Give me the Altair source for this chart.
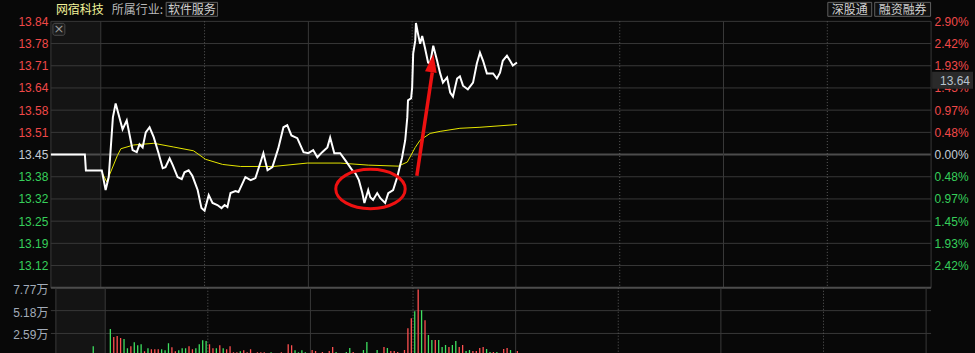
import json
import altair as alt
import pandas as pd

# ---------------- values ----------------
PREV_CLOSE = 13.45
STEP = 0.0651
X_START, X_END = -14.42, 240

price_tick_labels = ["13.12", "13.19", "13.25", "13.32", "13.38", "13.45",
                     "13.51", "13.58", "13.64", "13.71", "13.78", "13.84"]
pct_tick_labels = ["2.42%", "1.93%", "1.45%", "0.97%", "0.48%", "0.00%",
                   "0.48%", "0.97%", "1.45%", "1.93%", "2.42%", "2.90%"]
vol_tick_values = [2.59, 5.18, 7.77]
vol_tick_labels = ["2.59万", "5.18万", "7.77万"]

grid_solid_t = [X_START, 0, 60, 120, 180, 240]
grid_dotted_t = [30, 90, 150, 210]

price_t = [-14.42, -4.6, -4.3, 0.3, 1.4, 2.3, 3.5, 4.3, 6.3, 7.5, 9.2, 10.4, 11.2, 12.1, 13.0,
           14.1, 15.3, 16.7, 17.9, 18.7, 19.9, 20.8, 22.2, 23.4, 24.2, 25.4, 26.5, 28.0, 29.1,
           30.0, 31.2, 32.3, 33.7, 34.9, 35.8, 36.6, 37.5, 38.9, 39.8, 41.0, 41.8, 43.3, 44.7,
           46.2, 47.0, 48.2, 49.6, 51.3, 52.8, 53.9, 55.1, 56.8, 58.6, 60.0, 61.4, 62.6, 64.0,
           65.5, 66.3, 67.5, 69.2, 70.7, 72.7, 73.6, 74.6, 75.6, 76.2, 77.3, 77.9, 78.7, 79.9,
           80.8, 82.2, 83.1, 84.5, 85.7, 87.1, 88.0, 88.6, 88.8, 89.7, 90.0, 90.3, 90.9, 91.1,
           91.7, 92.3, 92.9, 93.7, 94.6, 95.2, 96.1, 97.2, 98.1, 98.9, 100.1, 101.0, 101.8,
           103.0, 103.8, 104.7, 106.1, 107.6, 108.7, 109.6, 110.5, 111.6, 112.5, 113.4, 114.5,
           115.4, 116.2, 117.4, 118.3, 119.1, 120.3]
price_v = [13.45, 13.45, 13.403, 13.403, 13.346, 13.384, 13.559, 13.600, 13.524, 13.550, 13.463,
           13.457, 13.480, 13.471, 13.515, 13.530, 13.501, 13.454, 13.410, 13.413, 13.439, 13.419,
           13.384, 13.378, 13.398, 13.404, 13.387, 13.346, 13.293, 13.285, 13.331, 13.308, 13.302,
           13.293, 13.302, 13.296, 13.337, 13.343, 13.340, 13.366, 13.384, 13.375, 13.381, 13.428,
           13.454, 13.404, 13.413, 13.468, 13.530, 13.536, 13.506, 13.498, 13.457, 13.454, 13.463,
           13.442, 13.457, 13.471, 13.500, 13.454, 13.454, 13.433, 13.404, 13.395, 13.375, 13.337,
           13.308, 13.346, 13.325, 13.317, 13.337, 13.322, 13.308, 13.337, 13.346, 13.384, 13.442,
           13.492, 13.559, 13.609, 13.615, 13.646, 13.746, 13.784, 13.836, 13.804, 13.775, 13.798,
           13.763, 13.720, 13.717, 13.769, 13.726, 13.688, 13.661, 13.676, 13.632, 13.620, 13.673,
           13.679, 13.652, 13.641, 13.661, 13.717, 13.749, 13.725, 13.688, 13.688, 13.688, 13.673,
           13.690, 13.725, 13.740, 13.725, 13.711, 13.720]

avg_t = [0.5, 1.7, 4.8, 5.8, 9.5, 15.3, 21.1, 26.8, 30.3, 35.2, 40.4, 49.9, 59.7, 69.2, 77.3,
         86.0, 88.6, 90.9, 92.3, 95.2, 98.1, 103.8, 109.6, 120.3]
avg_v = [13.395, 13.370, 13.447, 13.467, 13.478, 13.483, 13.472, 13.461, 13.436, 13.421, 13.415,
         13.415, 13.425, 13.425, 13.419, 13.416, 13.428, 13.471, 13.492, 13.512, 13.518, 13.527,
         13.530, 13.538]

# volume per minute (万), 9:30 .. 11:30
vol = [3.09, 2.18, 2.30, 2.06, 1.95, 0.92, 1.15, 1.60, 1.26, 1.37,
       0.57, 0.92, 0.80, 0.80, 0.80, 0.80, 0.69, 1.49, 1.03, 0.57,
       0.69, 0.92, 0.92, 1.15, 0.80, 0.92, 1.37, 1.83, 1.72, 1.37,
       0.92, 0.92, 1.26, 0.92, 0.80, 1.15, 0.46, 0.46, 0.57, 0.69,
       0.46, 0.80, 0.15, 0.46, 0.46, 0.46, 0.15, 0.46, 0.15, 0.15,
       0.46, 0.15, 1.37, 1.26, 0.69, 0.46, 0.69, 0.46, 0.15, 0.71,
       0.60, 0.15, 0.49, 0.15, 0.60, 1.05, 0.49, 0.15, 0.15, 0.49,
       0.94, 0.49, 0.15, 0.15, 0.71, 1.61, 0.15, 0.15, 0.71, 0.15,
       1.05, 0.94, 0.60, 0.60, 0.49, 0.15, 0.71, 3.19, 4.32, 5.10,
       7.58, 5.22, 4.09, 2.40, 1.84, 1.84, 1.84, 1.05, 1.28, 1.05,
       1.28, 1.73, 1.05, 1.28, 0.60, 0.71, 0.60, 0.60, 0.94, 1.05,
       0.83, 0.49, 0.49, 0.49, 0.15, 0.83, 0.94, 0.71, 0.15, 0.60]
vol_up = [0, 1, 1, 1, 0, 0, 1, 0, 0, 0,
          1, 0, 1, 1, 1, 0, 0, 0, 1, 1,
          0, 0, 0, 1, 1, 0, 0, 0, 0, 1,
          1, 0, 1, 0, 1, 1, 1, 1, 0, 1,
          1, 1, 1, 1, 1, 1, 0, 0, 0, 1,
          1, 1, 1, 1, 0, 0, 0, 0, 0, 1,
          1, 0, 1, 0, 1, 1, 0, 0, 0, 0,
          0, 1, 0, 0, 0, 0, 0, 0, 0, 0,
          1, 0, 1, 1, 1, 1, 1, 1, 1, 0,
          1, 0, 1, 0, 0, 1, 0, 0, 0, 1,
          0, 0, 1, 1, 0, 0, 1, 1, 1, 1,
          0, 0, 1, 0, 0, 1, 1, 0, 0, 1]
auction_t = [-3.5]
auction_vol = [1.15]

circle_t, circle_p = [77.96], [13.349]
arrow_t, arrow_p, arrow_t2, arrow_p2 = [91.35], [13.388], [95.82], [13.691]
arrow_tip_t, arrow_tip_p = [96.14], [13.745]
TAG_TEXT = "13.64"

# ---------------- styling ----------------
W, H_PRICE, H_VOL = 882, 267, 66
BG = "#080808"
PRE = "#141414"
GRID = "#383838"
DOT = "#5c5c5c"
RED_TXT, GREEN_TXT, NEUTRAL_TXT = "#f04848", "#36cf5a", "#c3ccd6"
BAR_UP, BAR_DOWN = "#ff5050", "#3ee060"
ANN = "#ee1111"
CJK = "Noto Sans CJK SC"
LAT = "Liberation Sans"
EPS = 1e-4

price_ticks = [round(PREV_CLOSE + k * STEP, 4) for k in range(-5, 7)]
xs = alt.Scale(domain=[X_START, X_END], nice=False, zero=False)
ys = alt.Scale(domain=[PREV_CLOSE - 6 * STEP - EPS, PREV_CLOSE + 6 * STEP + EPS], nice=False, zero=False)
vs = alt.Scale(domain=[0.3, 7.77 + EPS], nice=False, zero=False)

color_expr = (f"datum.value > {PREV_CLOSE + 0.01} ? '{RED_TXT}' : "
              f"(datum.value < {PREV_CLOSE - 0.01} ? '{GREEN_TXT}' : '{NEUTRAL_TXT}')")
idx_expr = f"round((datum.value - {price_ticks[0]}) / {STEP})"

left_axis = alt.Axis(values=price_ticks, labelExpr=f"{json.dumps(price_tick_labels)}[{idx_expr}]",
                     labelColor={"expr": color_expr}, labelFont=LAT, labelFontSize=12,
                     labelPadding=3, domain=False, ticks=False, grid=False, labelFlush=False,
                     labelOverlap=False, title=None)
right_axis = alt.Axis(values=price_ticks, orient="right",
                      labelExpr=f"{json.dumps(pct_tick_labels)}[{idx_expr}]",
                      labelColor={"expr": color_expr}, labelFont=LAT, labelFontSize=12,
                      labelPadding=3, labelAlign="left", domain=False, ticks=False, grid=False,
                      labelFlush=False, labelOverlap=False, title=None)
vol_axis = alt.Axis(values=vol_tick_values,
                    labelExpr=f"{json.dumps(vol_tick_labels)}[round(datum.value / 2.59) - 1]",
                    labelColor="#a3acb9", labelFont=f"{LAT}, {CJK}", labelFontSize=12,
                    labelPadding=3, labelOffset=1.5, domain=False, ticks=False, grid=False,
                    labelFlush=False, labelOverlap=False, title=None)

ONE = pd.DataFrame({"a": [0]})


def txt(s, x, y, color, size=12, align="left", font=CJK):
    return alt.Chart(ONE).mark_text(text=s, align=align, baseline="middle", color=color,
                                    fontSize=size, font=font).encode(x=alt.value(x), y=alt.value(y))


def box(x1, x2, y1, y2, fill, stroke=None, radius=0):
    kw = dict(fill=fill, cornerRadius=radius)
    if stroke:
        kw.update(stroke=stroke, strokeWidth=1)
    else:
        kw.update(strokeWidth=0)
    return alt.Chart(ONE).mark_rect(**kw).encode(
        x=alt.value(x1), x2=alt.value(x2), y=alt.value(y1), y2=alt.value(y2))


X = lambda f: alt.X(f, scale=xs, axis=None)
Y = lambda f: alt.Y(f, scale=ys, axis=left_axis)

# ---------------- price panel ----------------
bounds_rect = alt.Chart(ONE).mark_rect(opacity=0).encode(
    x=alt.value(-50), x2=alt.value(925), y=alt.value(-20), y2=alt.value(H_PRICE))
pre_df = pd.DataFrame({"x": [X_START], "x2": [0]})
pre_p = alt.Chart(pre_df).mark_rect(color=PRE).encode(
    x=X("x:Q"), x2="x2:Q", y=alt.value(0), y2=alt.value(H_PRICE))

hg_df = pd.DataFrame({"v": price_ticks,
                      "w": [2 if abs(v - PREV_CLOSE) < 1e-6 else 1 for v in price_ticks],
                      "c": ["#4c4c4c" if abs(v - PREV_CLOSE) < 1e-6 else GRID for v in price_ticks]})
hgrid = alt.Chart(hg_df).mark_rule().encode(
    y=Y("v:Q"), strokeWidth=alt.StrokeWidth("w:Q", scale=None), color=alt.Color("c:N", scale=None))

vsolid_df = pd.DataFrame({"t": grid_solid_t})
vdot_df = pd.DataFrame({"t": grid_dotted_t})
vsolid = alt.Chart(vsolid_df).mark_rule(color=GRID, strokeWidth=1).encode(x=X("t:Q"))
vdot = alt.Chart(vdot_df).mark_rule(color=DOT, strokeWidth=1, strokeDash=[1, 2]).encode(x=X("t:Q"))

avg_df = pd.DataFrame({"t": avg_t, "p": avg_v})
price_df = pd.DataFrame({"t": price_t, "p": price_v})
avg_line = alt.Chart(avg_df).mark_line(color="#e6e600", strokeWidth=1).encode(x=X("t:Q"), y=Y("p:Q"))
price_line = alt.Chart(price_df).mark_line(color="#ffffff", strokeWidth=2).encode(x=X("t:Q"), y=Y("p:Q"))

ELLIPSE = ("M -1 0 C -1 -0.313 -0.552 -0.566 0 -0.566 C 0.552 -0.566 1 -0.313 1 0 "
           "C 1 0.313 0.552 0.566 0 0.566 C -0.552 0.566 -1 0.313 -1 0 Z")
ellipse = alt.Chart(pd.DataFrame({"t": circle_t, "p": circle_p})).mark_point(
    shape=ELLIPSE, size=4844, filled=False, stroke=ANN, strokeWidth=3, opacity=1).encode(
    x=X("t:Q"), y=Y("p:Q"))
shaft = alt.Chart(pd.DataFrame({"t": arrow_t, "p": arrow_p, "t2": arrow_t2, "p2": arrow_p2})).mark_rule(
    color=ANN, strokeWidth=3.5).encode(x=X("t:Q"), y=Y("p:Q"), x2="t2:Q", y2="p2:Q")
head = alt.Chart(pd.DataFrame({"t": arrow_tip_t, "p": arrow_tip_p})).mark_point(
    shape="M 0 0 L 0.32 1 L -0.32 1 Z", size=1354, angle=8, filled=True, fill=ANN,
    strokeWidth=0, opacity=1).encode(x=X("t:Q"), y=Y("p:Q"))

header = [
    txt("网宿科技", 5, -11, "#f2f29a"),
    txt("所属行业:", 61, -11, "#b9b9b9"),
    box(115.5, 167, -19, -5, "#101010", "#5f5f5f"),
    txt("软件服务", 141.25, -11.5, "#cfcfcf", align="center"),
    box(778.5, 822.5, -19, -5, "#101010", "#5f5f5f"),
    txt("深股通", 800.5, -11.5, "#cfcfcf", align="center"),
    box(825.5, 881.5, -19, -5, "#101010", "#5f5f5f"),
    txt("融资融券", 853.5, -11.5, "#cfcfcf", align="center"),
    box(2, 14, 2, 14, "#1c1c1c", "#4a4a4a", radius=2),
    txt("×", 8, 7.5, "#9a9a9a", size=13, align="center", font="DejaVu Sans"),
    box(883, 924, 50.5, 67.5, "#2a2a2a"),
    txt(TAG_TEXT, 921, 59.5, "#b7c3cf", align="right", font=LAT),
]

inner = alt.layer(bounds_rect, pre_p, hgrid, vsolid, vdot, avg_line, price_line,
                  ellipse, shaft, head, *header)
right_layer = alt.Chart(hg_df).mark_rule(opacity=0).encode(y=alt.Y("v:Q", scale=ys, axis=right_axis))
price_chart = alt.layer(inner, right_layer).resolve_scale(y="independent").properties(
    width=W, height=H_PRICE)

# ---------------- volume panel ----------------
VY = lambda f: alt.Y(f, scale=vs, axis=vol_axis)
pre_v = alt.Chart(pre_df).mark_rect(color=PRE).encode(
    x=X("x:Q"), x2="x2:Q", y=alt.value(0), y2=alt.value(H_VOL))
vg_df = pd.DataFrame({"v": vol_tick_values, "w": [1, 1, 2], "c": [GRID, GRID, "#4c4c4c"]})
vhgrid = alt.Chart(vg_df).mark_rule().encode(
    y=VY("v:Q"), strokeWidth=alt.StrokeWidth("w:Q", scale=None), color=alt.Color("c:N", scale=None))
bar_df = pd.DataFrame({"t": [i + 1.5 for i in range(len(vol))], "v": vol,
                       "d": ["up" if u else "down" for u in vol_up]})
bars = alt.Chart(bar_df).mark_bar(size=1.3, clip=True).encode(
    x=X("t:Q"), y=VY("v:Q"),
    color=alt.Color("d:N", scale=alt.Scale(domain=["up", "down"], range=[BAR_UP, BAR_DOWN]), legend=None))
auction = alt.Chart(pd.DataFrame({"t": auction_t, "v": auction_vol})).mark_bar(
    size=1.3, clip=True, color=BAR_DOWN).encode(x=X("t:Q"), y=VY("v:Q"))

vol_chart = alt.layer(pre_v, vhgrid, vsolid, vdot, bars, auction).properties(width=W, height=H_VOL)

chart = alt.vconcat(price_chart, vol_chart, spacing=0, bounds="flush").properties(
    background=BG, padding=0).configure_view(stroke="transparent")

chart.save("out.html", embed_options={"renderer": "svg", "actions": False})
